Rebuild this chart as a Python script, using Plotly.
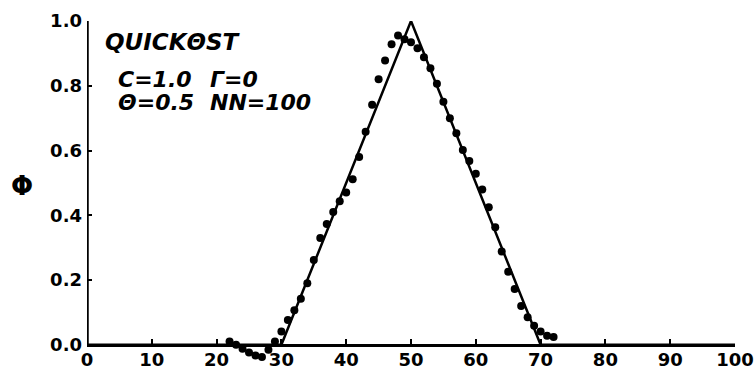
import plotly.graph_objects as go

# Exact solution (triangle)
exact_x = [0, 30, 50, 70, 100]
exact_y = [0.0, 0.0, 1.0, 0.0, 0.0]

# QUICKEST numerical solution (dots)
num_x = list(range(22, 73))
num_y = [0.010, 0.000, -0.012, -0.024, -0.033, -0.038, -0.015, 0.010, 0.041, 0.077,
         0.107, 0.142, 0.190, 0.262, 0.330, 0.373, 0.410, 0.443, 0.470, 0.511,
         0.580, 0.658, 0.741, 0.820, 0.878, 0.928, 0.955, 0.944, 0.934, 0.916,
         0.888, 0.854, 0.806, 0.751, 0.700, 0.653, 0.602, 0.568, 0.528, 0.480,
         0.425, 0.363, 0.288, 0.226, 0.172, 0.120, 0.085, 0.059, 0.041, 0.028,
         0.024]

x_ticks = [0, 10, 20, 30, 40, 50, 60, 70, 80, 90, 100]
y_ticks = [0.0, 0.2, 0.4, 0.6, 0.8, 1.0]

Y_MIN, Y_MAX = -0.05, 1.0
FONT = "DejaVu Sans"

fig = go.Figure()
fig.add_trace(go.Scatter(x=exact_x, y=exact_y, mode="lines",
                         line=dict(color="black", width=2.5),
                         cliponaxis=False, showlegend=False))
fig.add_trace(go.Scatter(x=num_x, y=num_y, mode="markers",
                         marker=dict(color="black", size=8),
                         cliponaxis=False, showlegend=False))

tick_font = dict(family=FONT, size=18, weight="bold", color="black")
fig.update_layout(
    width=756, height=370,
    margin=dict(l=87, r=21, t=21, b=9),
    paper_bgcolor="white", plot_bgcolor="white",
    font=dict(family=FONT, color="black"),
    xaxis=dict(range=[0, 100], tickvals=x_ticks, ticktext=[str(v) for v in x_ticks],
               anchor="free", position=(0 - Y_MIN) / (Y_MAX - Y_MIN),
               showline=True, linewidth=3, linecolor="black",
               ticks="inside", ticklen=5, tickwidth=2, tickcolor="black",
               showgrid=False, zeroline=False, automargin=False,
               ticklabelstandoff=-2, tickfont=tick_font),
    yaxis=dict(range=[Y_MIN, Y_MAX], tickvals=y_ticks,
               ticktext=[f"{v:.1f}" for v in y_ticks],
               showline=False,
               ticks="inside", ticklen=5, tickwidth=2, tickcolor="black",
               showgrid=False, zeroline=False, automargin=False,
               ticklabelstandoff=4, tickfont=tick_font),
)

# y-axis line spanning 0..1 only
fig.add_shape(type="line", xref="x", yref="y", x0=0, x1=0, y0=y_ticks[0], y1=y_ticks[-1],
              line=dict(color="black", width=3.5))

ann_font = dict(family=FONT, size=22, weight="bold", style="italic", color="black")
fig.add_annotation(x=2.4, y=0.935, xref="x", yref="y", text="QUICKΘST",
                   showarrow=False, xanchor="left", yanchor="middle",
                   font=dict(ann_font, size=23))
fig.add_annotation(x=4.5, y=0.818, xref="x", yref="y", text="C=1.0",
                   showarrow=False, xanchor="left", yanchor="middle", font=ann_font)
fig.add_annotation(x=18.7, y=0.818, xref="x", yref="y", text="Γ=0",
                   showarrow=False, xanchor="left", yanchor="middle", font=ann_font)
fig.add_annotation(x=4.5, y=0.747, xref="x", yref="y", text="Θ=0.5",
                   showarrow=False, xanchor="left", yanchor="middle", font=ann_font)
fig.add_annotation(x=18.7, y=0.747, xref="x", yref="y", text="NN=100",
                   showarrow=False, xanchor="left", yanchor="middle", font=ann_font)
fig.add_annotation(x=-0.1, y=0.515, xref="paper", yref="paper", text="Φ",
                   showarrow=False, xanchor="center", yanchor="middle",
                   font=dict(family=FONT, size=26, weight="bold", color="black"))

fig.write_html("out.html")
